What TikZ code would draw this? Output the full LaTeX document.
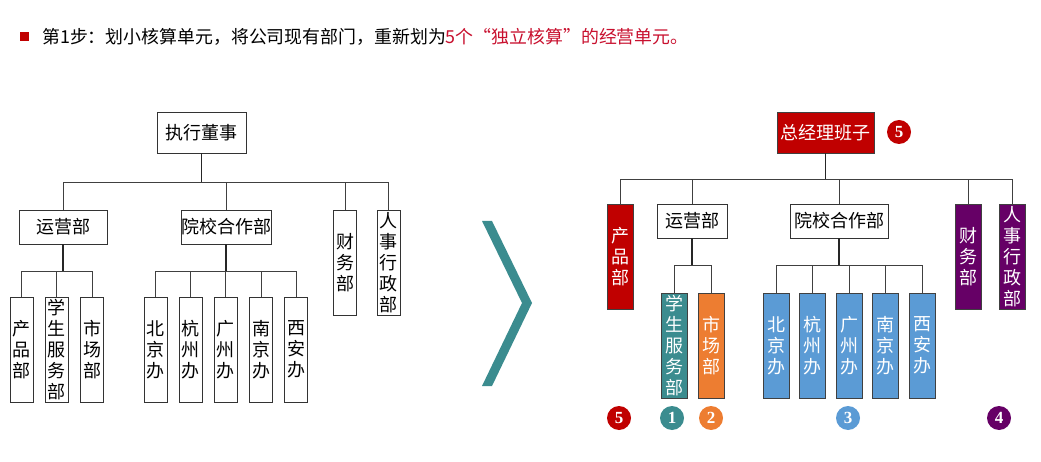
\documentclass[tikz,border=0pt]{standalone}
\usepackage{fontspec}
\setmainfont{Liberation Serif}
\newfontfamily\cjk{Noto Sans CJK SC}
\usepackage{xcolor}
\usetikzlibrary{positioning}
\definecolor{unitred}{HTML}{C00000}
\definecolor{titlered}{HTML}{C8102E}
\definecolor{unitteal}{HTML}{3B8C8F}
\definecolor{unitorange}{HTML}{ED7D31}
\definecolor{unitblue}{HTML}{5B9BD5}
\definecolor{unitpurple}{HTML}{660066}

\begin{document}
\begin{tikzpicture}[
  x=1pt, y=-1pt,
  box/.style={draw=black!80, line width=0.8pt, inner sep=0pt, align=center,
    font=\cjk\fontsize{18}{21}\selectfont},
  wide/.style={box, minimum height=34pt},
  tall/.style={box, minimum width=23pt, minimum height=105pt},
  unit/.style={box, draw=black!75, minimum width=26pt, minimum height=105pt, fill=#1, text=white},
  badge/.style={circle, fill=#1, text=white, minimum size=24pt, inner sep=0pt,
    font=\bfseries\fontsize{17}{17}\selectfont},
  link/.style={draw=black!75, line width=0.8pt},
  trunk/.style={draw=black!85, line width=1.6pt}
]
\useasboundingbox (0,0) rectangle (1041,462);

% title line
\fill[unitred] (20,32) rectangle (29,41);
\node[anchor=west, inner sep=0pt, font=\cjk\fontsize{17.9}{20}\selectfont] (title) at (42,37)
  {第1步：划小核算单元，将公司现有部门，重新划为\textcolor{titlered}{5个“独立核算”的经营单元。}};

% current structure
\node[wide, minimum width=89pt, minimum height=41pt] (exec) at (201.5,132.5) {执行董事};
\node[wide, minimum width=88pt] (ops) at (63,227) {运营部};
\node[wide, minimum width=88pt] (coop) at (226,227) {院校合作部};
\node[tall] (fin) at (345,262.5) {财\\务\\部};
\node[tall] (hr) at (388.5,262.5) {人\\事\\行\\政\\部};
\node[tall] (prod) at (21.5,349.5) {产\\品\\部};
\node[tall] (stud) at (56.5,349.5) {学\\生\\服\\务\\部};
\node[tall] (mkt) at (92,349.5) {市\\场\\部};
\node[tall] (bj) at (155.5,349.5) {北\\京\\办};
\node[tall] (hz) at (190.5,349.5) {杭\\州\\办};
\node[tall] (gz) at (225.5,349.5) {广\\州\\办};
\node[tall] (nj) at (261,349.5) {南\\京\\办};
\node[tall] (xa) at (296,349.5) {西\\安\\办};

\coordinate (lbus) at (0,182);
\coordinate (lsub) at (0,271);
\draw[trunk] (exec) -- (exec |- lbus);
\draw[link] (ops.north) |- (hr.north |- lbus) -- (hr.north);
\foreach \n in {coop, fin}
  \draw[link] (\n.north) -- (\n.north |- lbus);
\draw[trunk] (ops) -- (ops |- lsub);
\draw[link] (prod.north) |- (mkt.north |- lsub) -- (mkt.north);
\draw[link] (stud.north) -- (stud.north |- lsub);
\draw[trunk] (coop) -- (coop |- lsub);
\draw[link] (bj.north) |- (xa.north |- lsub) -- (xa.north);
\foreach \n in {hz, gz, nj}
  \draw[link] (\n.north) -- (\n.north |- lsub);

% chevron
\fill[unitteal] (482,221) -- (492,221) -- (532,303) -- (492,386) -- (482,386) -- (522,303) -- cycle;

% new structure
\node[wide, draw=black!75, fill=unitred, text=white, minimum width=97pt, minimum height=41pt] (gm) at (825.5,132.5) {总经理班子};
\node[badge=unitred] (gmnum) at (899,132) {5};
\node[unit=unitred] (prodn) at (620,256.5) {产\\品\\部};
\node[wide, minimum width=70pt] (opsn) at (692,221) {运营部};
\node[wide, minimum width=98pt] (coopn) at (839,221) {院校合作部};
\node[unit=unitpurple] (finn) at (968.5,256.5) {财\\务\\部};
\node[unit=unitpurple] (hrn) at (1012,256.5) {人\\事\\行\\政\\部};
\node[unit=unitteal] (studn) at (674,345.5) {学\\生\\服\\务\\部};
\node[unit=unitorange] (mktn) at (711.5,345.5) {市\\场\\部};
\node[unit=unitblue] (bjn) at (776,345.5) {北\\京\\办};
\node[unit=unitblue] (hzn) at (812,345.5) {杭\\州\\办};
\node[unit=unitblue] (gzn) at (849,345.5) {广\\州\\办};
\node[unit=unitblue] (njn) at (885.5,345.5) {南\\京\\办};
\node[unit=unitblue] (xan) at (922,345.5) {西\\安\\办};

\coordinate (rbus) at (0,179);
\coordinate (rsub) at (0,265);
\draw[trunk] (gm) -- (gm |- rbus);
\draw[link] (prodn.north) |- (hrn.north |- rbus) -- (hrn.north);
\foreach \n in {opsn, coopn, finn}
  \draw[link] (\n.north) -- (\n.north |- rbus);
\draw[trunk] (opsn) -- (opsn |- rsub);
\draw[link] (studn.north) |- (mktn.north |- rsub) -- (mktn.north);
\draw[trunk] (coopn) -- (coopn |- rsub);
\draw[link] (bjn.north) |- (xan.north |- rsub) -- (xan.north);
\foreach \n in {hzn, gzn, njn}
  \draw[link] (\n.north) -- (\n.north |- rsub);

% unit numbers
\node[badge=unitred] (num5) at (619,418) {5};
\node[badge=unitteal] (num1) at (672,418) {1};
\node[badge=unitorange] (num2) at (711,418) {2};
\node[badge=unitblue] (num3) at (848,418) {3};
\node[badge=unitpurple] (num4) at (999,418) {4};
\end{tikzpicture}
\end{document}
